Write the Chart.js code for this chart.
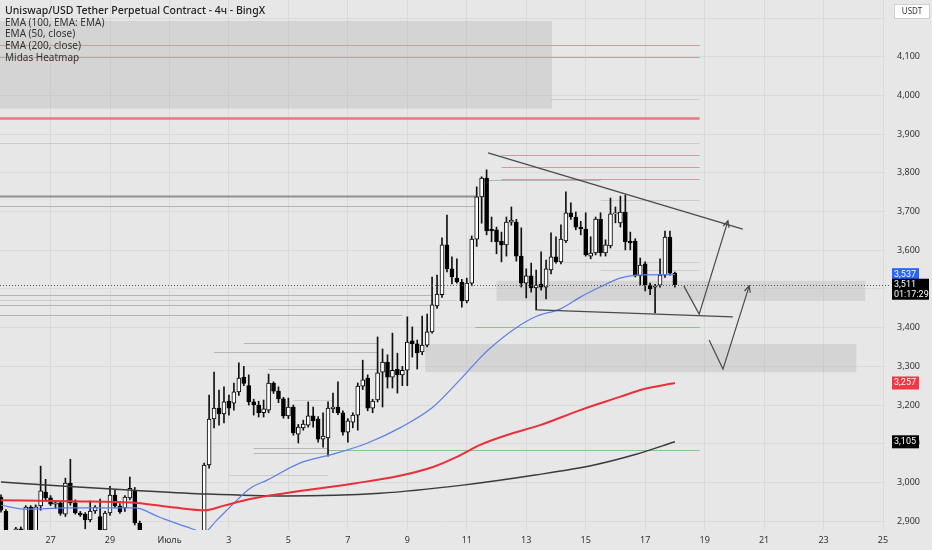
<!DOCTYPE html>
<html lang="ru">
<head>
<meta charset="UTF-8">
<title>UNI/USDT 4h</title>
<script src="https://cdn.jsdelivr.net/npm/chart.js"></script>
<style>
  html, body { margin: 0; padding: 0; background: #e7e7e7; }
  #wrap { width: 932px; height: 550px; position: relative; }
</style>
</head>
<body>
<div id="wrap"><canvas id="chart"></canvas></div>
<script>
// bar index 0 = 25 Jun 08:00, one bar = 4h, bar 10 = 27 Jun 00:00
// [open, high, low, close]
const ohlc = [
  [2962,2968,2923,2928],[2925,2930,2850,2860],[2858,2874,2835,2845],[2860,2884,2850,2880],[2880,2885,2860,2870],
  [2868,2940,2860,2936],[2936,2940,2855,2862],[2862,2942,2855,2937],[2939,3042,2928,2978],[2975,3008,2952,2960],
  [2960,2966,2940,2944],[2944,2950,2932,2947],[2947,2950,2915,2920],[2918,3011,2912,2998],[2998,3060,2941,2947],
  [2947,2955,2918,2921],[2921,2925,2912,2916],[2918,2922,2880,2903],[2903,2952,2898,2926],[2926,2940,2920,2936],
  [2912,2957,2865,2877],[2877,2925,2868,2921],[2921,2990,2915,2967],[2967,2980,2934,2939],[2939,2945,2920,2924],
  [2934,2966,2925,2962],[2960,3014,2955,2985],[2980,2987,2890,2895],[2895,2900,2858,2865],[2866,2872,2845,2852],
  [2852,2874,2835,2840],[2840,2858,2815,2822],[2822,2840,2800,2810],[2810,2830,2790,2818],[2818,2835,2795,2800],
  [2800,2820,2780,2792],[2792,2815,2775,2808],[2808,2830,2795,2815],[2815,2838,2800,2826],[2826,2845,2812,2835],
  [2835,2850,2818,2845],[2845,3050,2835,3045],[3045,3226,3037,3164],[3164,3285,3141,3192],[3192,3239,3148,3177],
  [3177,3247,3154,3208],[3210,3226,3174,3192],[3205,3257,3187,3234],[3234,3309,3225,3270],[3272,3300,3250,3256],
  [3250,3278,3200,3208],[3208,3215,3174,3200],[3200,3210,3169,3180],[3180,3213,3169,3190],[3187,3280,3180,3257],
  [3256,3260,3230,3236],[3236,3247,3206,3216],[3216,3220,3166,3172],[3172,3218,3165,3195],[3195,3200,3122,3128],
  [3125,3150,3102,3143],[3141,3161,3135,3151],[3148,3208,3143,3172],[3172,3195,3143,3159],[3164,3170,3104,3112],
  [3112,3180,3091,3120],[3115,3208,3068,3192],[3190,3231,3180,3195],[3195,3260,3175,3180],[3180,3185,3122,3130],
  [3130,3165,3104,3159],[3156,3180,3141,3174],[3174,3257,3135,3249],[3249,3316,3240,3265],[3270,3278,3185,3192],
  [3192,3215,3180,3210],[3213,3376,3208,3283],[3285,3345,3195,3311],[3311,3330,3244,3272],[3272,3386,3244,3290],
  [3292,3334,3231,3278],[3278,3300,3250,3290],[3290,3428,3250,3363],[3366,3402,3324,3358],[3358,3368,3293,3335],
  [3337,3430,3330,3355],[3355,3435,3350,3389],[3389,3531,3386,3459],[3456,3536,3450,3487],[3485,3632,3478,3614],
  [3614,3691,3544,3552],[3552,3583,3513,3531],[3528,3578,3515,3518],[3518,3525,3453,3469],[3469,3528,3464,3515],
  [3515,3637,3508,3629],[3629,3764,3610,3738],[3738,3790,3670,3787],[3787,3808,3640,3650],[3655,3686,3622,3650],
  [3653,3660,3591,3622],[3624,3647,3570,3614],[3614,3686,3585,3673],[3673,3712,3665,3678],[3673,3680,3572,3585],
  [3585,3658,3505,3515],[3515,3552,3477,3534],[3534,3567,3492,3503],[3503,3549,3446,3510],[3513,3596,3497,3505],
  [3505,3575,3474,3552],[3549,3645,3539,3583],[3583,3635,3567,3570],[3570,3666,3565,3629],[3624,3751,3620,3697],
  [3697,3723,3680,3686],[3686,3699,3653,3660],[3660,3675,3640,3655],[3655,3697,3585,3588],[3585,3635,3578,3593],
  [3593,3686,3588,3681],[3681,3697,3585,3593],[3593,3627,3585,3614],[3611,3735,3606,3694],[3694,3712,3671,3697],
  [3671,3740,3660,3699],[3699,3743,3601,3622],[3624,3647,3601,3619],[3624,3630,3531,3534],[3534,3580,3510,3562],
  [3565,3570,3495,3510],[3510,3515,3485,3500],[3505,3512,3438,3508],[3510,3578,3505,3536],[3536,3650,3530,3634],
  [3634,3650,3536,3541],[3541,3544,3505,3511]
];

// EMA lines: [bar index, price]
const ema50 = [[0,2941],[5,2931],[13,2934],[20,2934],[27,2934],[32,2910],[37.5,2885],[41,2872],[43.6,2903],
  [46.2,2936],[50.3,2985],[53.7,3006],[60.3,3050],[67,3073],[74,3102],[80.5,3141],[87.2,3195],[92.6,3265],
  [96.7,3322],[98.7,3347],[104,3400],[108.2,3430],[112.8,3448],[116.9,3479],[120.9,3505],[124.9,3528],
  [128.4,3536],[136,3537]];
const ema100 = [[0,2954],[14,2951],[27.4,2947],[35,2935],[41.2,2928],[45,2940],[50.3,2957],[57.3,2972],
  [71.6,2998],[80,3016],[87.2,3040],[92,3066],[96.7,3097],[102,3122],[108.8,3148],[116.9,3187],
  [124.9,3221],[129.6,3241],[136,3257]];
const ema200 = [[0,3001],[13,2990],[26.6,2980],[41.8,2970],[57.3,2965],[76.5,2972],[93.2,2993],
  [107.8,3019],[119.7,3045],[128,3072],[136,3105]];

const dayLabels = ['27','29','Июль','3','5','7','9','11','13','15','17','19','21','23','25'];
const firstLabelBar = 10;
const barsPerLabel = 12;
const priceTicks = [2900,3000,3100,3200,3300,3400,3500,3600,3700,3800,3900,4000,4100,4200];

const lastPrice = 3511;
const countdown = '01:17:29';

// drawings (bar index / price)
const heatLines = [
  [4131,-1,141,'pink'],[4100,-1,141,'pink'],[3942,-1,141,'pinkThick'],
  [3847,101,141,'pink'],[3816,101,141,'pink'],[3784,101,141,'pink'],
  [3878,-1,141,'faint'],[3990,111,141,'faint'],
  [3741,-1,96,'grayThick'],[3715,-1,96,'gray'],
  [3484,-1,87,'gray'],[3472,-1,92,'faint'],[3459,-1,87,'gray'],[3433,-1,81,'gray'],
  [3360,49,76,'gray'],[3337,43,76,'gray'],[3293,54,76,'gray'],[3213,59,67,'faint'],
  [3089,51,66,'gray'],[3076,51,66,'gray'],[3019,46,66,'faint'],
  [3782,97,121,'gray'],[3730,121,141,'faint'],[3570,113,141,'faint'],[3549,121,141,'faint'],
  [3402,95.7,141,'green'],[3084,66,141,'green']
];
const zones = [
  [-1,111.2,3966,4193],
  [100,174.4,3469,3521],
  [85.6,172.6,3285,3358]
];
const trendLines = [
  [[98.3,3852],[149.7,3655]],
  [[108.2,3446],[147.7,3428]]
];
const arrows = [
  [[137.8,3508],[140.9,3435],[146.7,3676]],
  [[142.9,3368],[145.7,3293],[151,3508]]
];

const heatStyle = {
  pink: ['rgb(236,140,150)', 1],
  pinkThick: ['rgb(232,120,132)', 2.5],
  gray: ['rgba(120,120,120,0.45)', 1],
  grayThick: ['rgba(110,110,110,0.7)', 2],
  faint: ['rgba(140,140,140,0.3)', 1],
  green: ['rgba(110,190,110,0.8)', 1]
};

const fmt = v => v.toLocaleString('en-US');

const decor = {
  id: 'decor',
  beforeDraw(chart) {
    const c = chart.ctx;
    c.save();
    c.fillStyle = '#e7e7e7';
    c.fillRect(0, 0, chart.width, chart.height);
    c.restore();
  },
  beforeDatasetsDraw(chart) {
    const c = chart.ctx, xs = chart.scales.x, ys = chart.scales.y, a = chart.chartArea;
    c.save();
    c.beginPath(); c.rect(a.left, a.top, a.right - a.left, a.bottom - a.top); c.clip();
    zones.forEach(z => {
      const x0 = xs.getPixelForValue(z[0]), x1 = xs.getPixelForValue(z[1]);
      const y0 = ys.getPixelForValue(z[3]), y1 = ys.getPixelForValue(z[2]);
      c.fillStyle = 'rgba(170,170,170,0.3)';
      c.fillRect(x0, y0, x1 - x0, y1 - y0);
    });
    heatLines.forEach(h => {
      const st = heatStyle[h[3]];
      const y = Math.round(ys.getPixelForValue(h[0])) + 0.5;
      c.strokeStyle = st[0]; c.lineWidth = st[1];
      c.beginPath();
      c.moveTo(xs.getPixelForValue(h[1]), y);
      c.lineTo(xs.getPixelForValue(h[2]), y);
      c.stroke();
    });
    c.restore();
  },
  afterDatasetsDraw(chart) {
    const c = chart.ctx, xs = chart.scales.x, ys = chart.scales.y, a = chart.chartArea;
    const P = p => [xs.getPixelForValue(p[0]), ys.getPixelForValue(p[1])];
    c.save();
    // last price dotted line
    const ly = Math.round(ys.getPixelForValue(lastPrice)) + 0.5;
    c.strokeStyle = '#555'; c.lineWidth = 1; c.setLineDash([1, 2]);
    c.beginPath(); c.moveTo(a.left, ly); c.lineTo(a.right + 5, ly); c.stroke();
    c.setLineDash([]);
    c.beginPath(); c.rect(a.left, a.top, a.right - a.left, a.bottom - a.top); c.clip();
    c.strokeStyle = '#4a4a4a'; c.lineWidth = 1.3;
    trendLines.forEach(t => {
      const p0 = P(t[0]), p1 = P(t[1]);
      c.beginPath(); c.moveTo(p0[0], p0[1]); c.lineTo(p1[0], p1[1]); c.stroke();
    });
    c.lineWidth = 1.2;
    arrows.forEach(ar => {
      const pts = ar.map(P);
      c.beginPath();
      pts.forEach((p, k) => k ? c.lineTo(p[0], p[1]) : c.moveTo(p[0], p[1]));
      c.stroke();
      const e = pts[pts.length - 1], s = pts[pts.length - 2];
      const ang = Math.atan2(e[1] - s[1], e[0] - s[0]);
      c.beginPath();
      c.moveTo(e[0] - 7 * Math.cos(ang - 0.45), e[1] - 7 * Math.sin(ang - 0.45));
      c.lineTo(e[0], e[1]);
      c.lineTo(e[0] - 7 * Math.cos(ang + 0.45), e[1] - 7 * Math.sin(ang + 0.45));
      c.stroke();
    });
    c.restore();
  },
  afterDraw(chart) {
    const c = chart.ctx, ys = chart.scales.y, a = chart.chartArea;
    c.save();
    // legend text
    c.textBaseline = 'middle'; c.textAlign = 'left';
    c.fillStyle = '#222';
    c.font = '500 10.5px "Noto Sans", sans-serif';
    c.fillText('Uniswap/USD Tether Perpetual Contract - 4ч - BingX', 5, 11);
    c.font = '10px "Noto Sans", sans-serif';
    c.fillStyle = '#333';
    ['EMA (100, EMA: EMA)', 'EMA (50, close)', 'EMA (200, close)', 'Midas Heatmap']
      .forEach((t, k) => c.fillText(t, 5, 23 + k * 11.6));
    // axis tags
    const tag = (val, bg, lines, w) => {
      const y = ys.getPixelForValue(val);
      const h = lines.length > 1 ? 21 : 13;
      const top = lines.length > 1 ? y - 6 : y - 6.5;
      c.fillStyle = bg;
      c.fillRect(a.right + 7, top, w, h);
      c.fillStyle = '#fff';
      c.font = '9px Roboto, sans-serif';
      lines.forEach((t, k) => c.fillText(t, a.right + 9, top + 6.5 + k * 9.5));
    };
    tag(3537, '#2962ff', [fmt(3537)], 27);
    tag(lastPrice, '#000', [fmt(lastPrice), countdown], 37);
    tag(3257, '#f23645', [fmt(3257)], 27);
    tag(3105, '#000', [fmt(3105)], 27);
    // currency box
    c.fillStyle = '#fff';
    c.strokeStyle = '#d0d0d0';
    c.fillRect(a.right + 9, 4, 36, 15);
    c.strokeRect(a.right + 9.5, 4.5, 35, 14);
    c.fillStyle = '#333';
    c.font = '8px "Noto Sans", sans-serif';
    c.textAlign = 'center';
    c.fillText('USDT', a.right + 27, 12);
    c.restore();
  }
};

new Chart(document.getElementById('chart'), {
  type: 'bar',
  data: {
    datasets: [
      {
        label: 'ema100', type: 'line', order: 0,
        data: ema100.map(p => ({x: p[0], y: p[1]})),
        borderColor: '#e8303a', borderWidth: 2, pointRadius: 0, cubicInterpolationMode: 'monotone'
      },
      {
        label: 'ema50', type: 'line', order: 0,
        data: ema50.map(p => ({x: p[0], y: p[1]})),
        borderColor: '#5b7fe6', borderWidth: 1.2, pointRadius: 0, cubicInterpolationMode: 'monotone'
      },
      {
        label: 'ema200', type: 'line', order: 0,
        data: ema200.map(p => ({x: p[0], y: p[1]})),
        borderColor: '#3a3a3a', borderWidth: 1.5, pointRadius: 0, cubicInterpolationMode: 'monotone'
      },
      {
        label: 'bodies', order: 1, grouped: false,
        data: ohlc.map((b, i) => ({x: i, y: [b[0], b[3]]})),
        backgroundColor: ohlc.map(b => b[3] >= b[0] ? '#ffffff' : '#000000'),
        borderColor: '#000', borderWidth: 1, borderSkipped: false,
        barThickness: 4, minBarLength: 1
      },
      {
        label: 'wicks', order: 2, grouped: false,
        data: ohlc.map((b, i) => ({x: i, y: [b[2], b[1]]})),
        backgroundColor: '#111', barThickness: 1
      }
    ]
  },
  options: {
    responsive: true,
    maintainAspectRatio: false,
    animation: false,
    layout: { padding: 0 },
    plugins: { legend: { display: false }, tooltip: { enabled: false } },
    scales: {
      x: {
        type: 'linear', min: -0.2, max: 178.4, offset: false,
        grid: { color: '#dadada', offset: false, drawTicks: false },
        border: { display: false },
        afterFit: s => { s.height = 20; s.paddingLeft = 0; s.paddingRight = 0; },
        afterBuildTicks: s => {
          s.ticks = dayLabels.map((_, k) => ({ value: firstLabelBar + k * barsPerLabel }));
        },
        ticks: {
          padding: 5, color: '#333', font: { size: 9, family: 'Noto Sans' },
          maxRotation: 0, autoSkip: false,
          callback: v => dayLabels[Math.round((v - firstLabelBar) / barsPerLabel)]
        }
      },
      y: {
        type: 'linear', position: 'right', min: 2877, max: 4247, beginAtZero: false,
        grid: { color: '#dadada', drawTicks: false },
        border: { display: false },
        afterFit: s => { s.width = 47; s.paddingTop = 0; s.paddingBottom = 0; },
        afterBuildTicks: s => { s.ticks = priceTicks.map(v => ({ value: v })); },
        ticks: {
          padding: 12, color: '#333', font: { size: 9, family: 'Noto Sans' },
          callback: v => v === 4200 ? '' : fmt(v)
        }
      }
    }
  },
  plugins: [decor]
});
</script>
</body>
</html>
